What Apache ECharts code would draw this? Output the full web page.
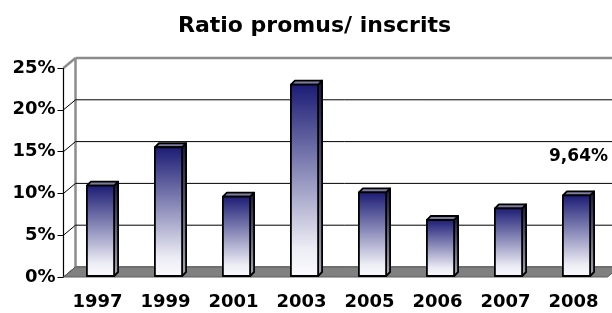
<!DOCTYPE html>
<html>
<head>
<meta charset="utf-8">
<script src="https://cdn.jsdelivr.net/npm/echarts@6/dist/echarts.min.js"></script>
<style>
  html, body { margin: 0; padding: 0; background: #fff; }
  #chart { width: 612px; height: 313px; }
</style>
</head>
<body>
<div id="chart"></div>
<script>
const years = ['1997', '1999', '2001', '2003', '2005', '2006', '2007', '2008'];
const ratios = [10.8, 15.4, 9.5, 22.9, 10.0, 6.7, 8.1, 9.64];
const labelledYears = ['2008'];
const yTicks = [0, 5, 10, 15, 20, 25];

const FONT = 'DejaVu Sans';
const wallOffset = [12, -10];  // back wall vs front axis
const barOffset = [4, -4];     // bar depth

function pct(v) {
  return v.toFixed(2).replace('.', ',') + '%';
}

const frontFill = new echarts.graphic.LinearGradient(0, 0, 0, 1, [
  { offset: 0, color: '#1a1a74' },
  { offset: 0.85, color: '#ececf5' },
  { offset: 1, color: '#fbfbfe' }
]);
const sideFill = new echarts.graphic.LinearGradient(0, 0, 0, 1, [
  { offset: 0, color: '#15153a' },
  { offset: 1, color: '#a8a8b4' }
]);

// back wall gridlines + side wall diagonals
function renderWall(params, api) {
  const cs = params.coordSys;
  const v = api.value(1);
  const y = api.coord([0, v])[1];
  const [dx, dy] = wallOffset;
  const x0 = cs.x, x1 = cs.x + cs.width;
  const top = v === yTicks[yTicks.length - 1];
  const style = top ? { stroke: '#8c8c8c', lineWidth: 2.5 } : { stroke: '#000', lineWidth: 1 };
  const children = [
    { type: 'line', shape: { x1: x0 + dx, y1: y + dy, x2: x1 + dx, y2: y + dy }, style },
    { type: 'line', shape: { x1: x0, y1: y, x2: x0 + dx, y2: y + dy }, style }
  ];
  if (v === 0) {
    const yTop = api.coord([0, yTicks[yTicks.length - 1]])[1];
    children.push({
      type: 'line',
      shape: { x1: x0 + dx, y1: y + dy, x2: x0 + dx, y2: yTop + dy },
      style: { stroke: '#8c8c8c', lineWidth: 2.5 }
    });
  }
  return { type: 'group', children };
}

function renderFloor(params, api) {
  const cs = params.coordSys;
  const y = api.coord([0, 0])[1];
  const [dx, dy] = wallOffset;
  const x0 = cs.x, x1 = cs.x + cs.width;
  return {
    type: 'polygon',
    shape: { points: [[x0, y], [x1, y], [x1 + dx, y + dy], [x0 + dx, y + dy]] },
    style: { fill: '#808080', stroke: '#5c5c5c', lineWidth: 1 }
  };
}

function renderBar(params, api) {
  const idx = api.value(0);
  const v = api.value(1);
  const top = api.coord([idx, v]);
  const base = api.coord([idx, 0]);
  const w = api.size([1, 0])[0] * 0.4;
  const left = top[0] - w / 2 + 3;
  const yt = top[1] - 1, yb = base[1] - 1;
  const [bx, by] = barOffset;
  const edge = { stroke: '#000', lineWidth: 1.8, lineJoin: 'round' };
  const front = {
    type: 'rect',
    shape: { x: left, y: yt, width: w, height: yb - yt },
    style: Object.assign({ fill: frontFill }, edge)
  };
  if (labelledYears.includes(years[idx])) {
    front.textContent = {
      style: { text: pct(v), fill: '#000', fontFamily: FONT, fontWeight: 'bold', fontSize: 17 }
    };
    front.textConfig = { position: 'top', distance: 29, offset: [2, 0] };
  }
  return {
    type: 'group',
    children: [
      {
        type: 'polygon',
        shape: { points: [[left + w, yt], [left + w + bx, yt + by], [left + w + bx, yb + by], [left + w, yb]] },
        style: Object.assign({ fill: sideFill }, edge)
      },
      {
        type: 'polygon',
        shape: { points: [[left, yt], [left + bx, yt + by], [left + w + bx, yt + by], [left + w, yt]] },
        style: Object.assign({ fill: '#7c7c9e' }, edge)
      },
      front
    ]
  };
}

const chart = echarts.init(document.getElementById('chart'));
chart.setOption({
  animation: false,
  backgroundColor: '#fff',
  title: {
    text: 'Ratio promus/ inscrits',
    left: 173,
    top: 10,
    textStyle: { fontFamily: FONT, fontWeight: 'bold', fontSize: 22, color: '#000' }
  },
  grid: { left: 63.5, right: 4.5, top: 68, bottom: 36, outerBoundsMode: 'none' },
  xAxis: {
    type: 'category',
    data: years,
    axisLine: { show: false },
    axisTick: { show: false },
    splitLine: { show: false },
    axisLabel: { margin: 16, color: '#000', fontFamily: FONT, fontWeight: 'bold', fontSize: 18 }
  },
  yAxis: {
    type: 'value',
    min: 0,
    max: 25,
    interval: 5,
    splitLine: { show: false },
    axisLine: { show: true, lineStyle: { color: '#000', width: 1.2 } },
    axisTick: { show: true, length: 6, lineStyle: { color: '#000', width: 1 } },
    axisLabel: {
      formatter: '{value}%', margin: 8, color: '#000',
      fontFamily: FONT, fontWeight: 'bold', fontSize: 18
    }
  },
  series: [
    { type: 'custom', name: 'wall', z: 1, silent: true, renderItem: renderWall, data: yTicks.map(v => [0, v]) },
    { type: 'custom', name: 'floor', z: 2, silent: true, renderItem: renderFloor, data: [[0, 0]] },
    { type: 'custom', name: 'Ratio', z: 3, renderItem: renderBar, data: ratios.map((v, i) => [i, v]) }
  ]
});
</script>
</body>
</html>
